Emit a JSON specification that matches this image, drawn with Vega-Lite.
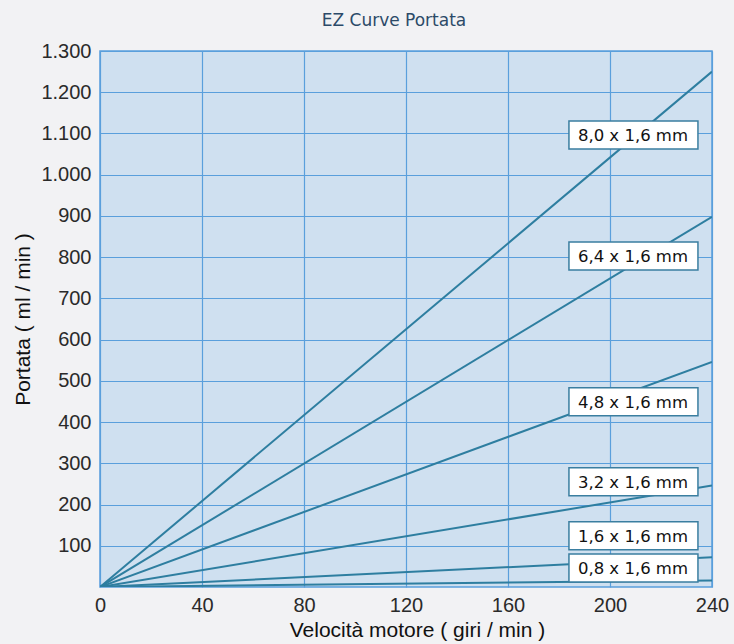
{
  "$schema": "https://vega.github.io/schema/vega-lite/v6.json",
  "width": 612,
  "height": 536,
  "autosize": {"type": "none"},
  "padding": {"left": 100, "top": 51, "right": 22, "bottom": 57},
  "background": "#f2f2f4",
  "title": {
    "text": "EZ Curve Portata",
    "font": "DejaVu Sans",
    "fontSize": 17,
    "fontWeight": "normal",
    "color": "#2c4a68",
    "anchor": "middle",
    "offset": 11,
    "dx": -12
  },
  "config": {
    "view": {"fill": "#cfe0f0", "stroke": "#5a9fdc", "strokeWidth": 1.5},
    "locale": {"number": {"decimal": ",", "thousands": ".", "grouping": [3], "currency": ["€", ""]}},
    "axis": {
      "labelFont": "Liberation Sans",
      "labelFontSize": 20,
      "labelColor": "#2a2a2a",
      "titleFont": "Liberation Sans",
      "titleFontSize": 21,
      "titleFontWeight": "normal",
      "titleColor": "#111111",
      "gridColor": "#5a9fdc",
      "gridOpacity": 1,
      "gridWidth": 1.2,
      "domain": false,
      "ticks": false,
      "labelFlush": false
    }
  },
  "datasets": {
    "lines": [
      {"serie": "8,0 x 1,6 mm", "giri": 0, "portata": 0},
      {"serie": "8,0 x 1,6 mm", "giri": 240, "portata": 1250},
      {"serie": "6,4 x 1,6 mm", "giri": 0, "portata": 0},
      {"serie": "6,4 x 1,6 mm", "giri": 240, "portata": 898},
      {"serie": "4,8 x 1,6 mm", "giri": 0, "portata": 0},
      {"serie": "4,8 x 1,6 mm", "giri": 240, "portata": 546},
      {"serie": "3,2 x 1,6 mm", "giri": 0, "portata": 0},
      {"serie": "3,2 x 1,6 mm", "giri": 240, "portata": 246},
      {"serie": "1,6 x 1,6 mm", "giri": 0, "portata": 0},
      {"serie": "1,6 x 1,6 mm", "giri": 240, "portata": 72},
      {"serie": "0,8 x 1,6 mm", "giri": 0, "portata": 0},
      {"serie": "0,8 x 1,6 mm", "giri": 240, "portata": 16}
    ],
    "labels": [
      {"serie": "8,0 x 1,6 mm", "giri": 209, "portata": 1096},
      {"serie": "6,4 x 1,6 mm", "giri": 209, "portata": 803},
      {"serie": "4,8 x 1,6 mm", "giri": 209, "portata": 449},
      {"serie": "3,2 x 1,6 mm", "giri": 209, "portata": 255},
      {"serie": "1,6 x 1,6 mm", "giri": 209, "portata": 124},
      {"serie": "0,8 x 1,6 mm", "giri": 209, "portata": 46}
    ]
  },
  "layer": [
    {
      "data": {"name": "lines"},
      "mark": {"type": "line", "color": "#2e7ea0", "strokeWidth": 2, "clip": true},
      "encoding": {
        "x": {
          "field": "giri", "type": "quantitative",
          "scale": {"domain": [0, 240], "nice": false},
          "axis": {"values": [0, 40, 80, 120, 160, 200, 240], "title": "Velocità motore ( giri / min )", "labelPadding": 8, "titlePadding": 4, "titleX": 317, "grid": true}
        },
        "y": {
          "field": "portata", "type": "quantitative",
          "scale": {"domain": [0, 1300], "nice": false},
          "axis": {"values": [100, 200, 300, 400, 500, 600, 700, 800, 900, 1000, 1100, 1200, 1300], "format": ",d", "title": "Portata ( ml / min )", "labelPadding": 9, "titlePadding": 7, "grid": true}
        },
        "detail": {"field": "serie"}
      }
    },
    {
      "data": {"name": "labels"},
      "mark": {"type": "rect", "fill": "#ffffff", "stroke": "#3a7ea0", "strokeWidth": 1.5, "xOffset": -64, "x2Offset": 65, "yOffset": -14, "y2Offset": 14},
      "encoding": {
        "x": {"field": "giri", "type": "quantitative"},
        "x2": {"field": "giri"},
        "y": {"field": "portata", "type": "quantitative"},
        "y2": {"field": "portata"}
      }
    },
    {
      "data": {"name": "labels"},
      "mark": {"type": "text", "font": "DejaVu Sans", "fontSize": 16.5, "color": "#111111", "align": "center", "baseline": "middle", "dy": 1},
      "encoding": {
        "x": {"field": "giri", "type": "quantitative"},
        "y": {"field": "portata", "type": "quantitative"},
        "text": {"field": "serie"}
      }
    }
  ]
}
